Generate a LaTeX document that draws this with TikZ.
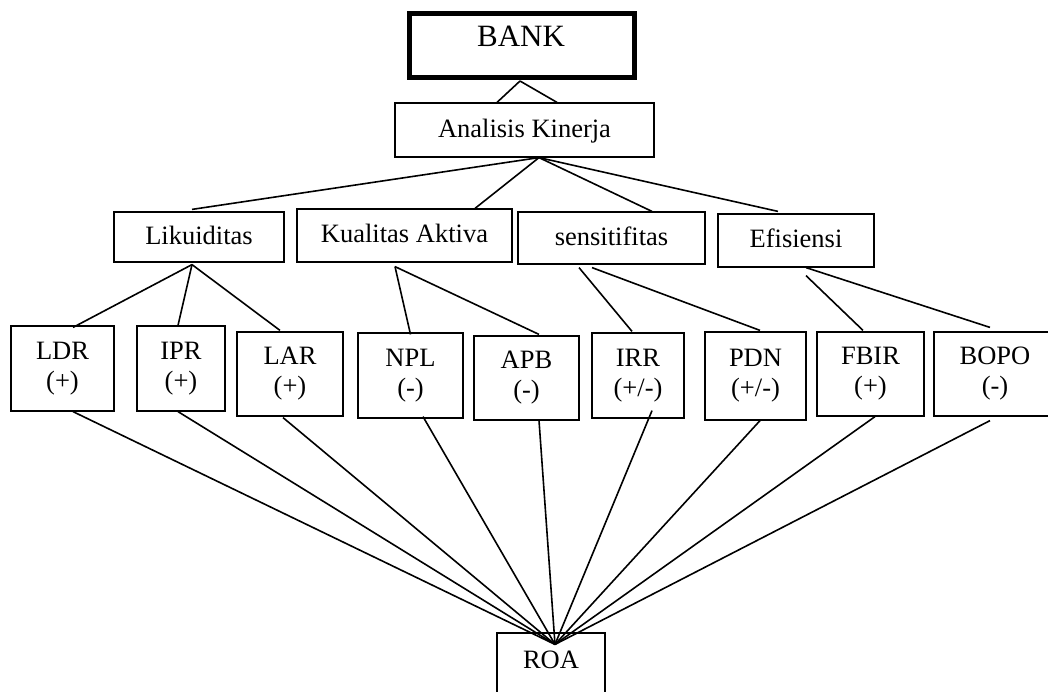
\documentclass[tikz,border=0pt]{standalone}
\usepackage{fontspec}
\setmainfont{Liberation Serif}
\usetikzlibrary{calc}
\begin{document}
\begin{tikzpicture}[x=0.5pt,y=-0.5pt,
  box/.style={draw, line width=0.6pt, inner sep=0pt, align=center,
    font=\fontsize{13.25pt}{15pt}\selectfont},
  one/.style={text height=0.72em, text depth=0pt},
  lbl/.style={inner sep=0pt},
  link/.style={line width=0.8pt}]
\useasboundingbox (0,0) rectangle (1048,691);
\clip (0,0) rectangle (1048,691);
% top
\node[box, line width=2.5pt, minimum width=112.5pt, minimum height=32pt] (bank) at (522,45.5) {};
\node[lbl, font=\fontsize{15.5pt}{18pt}\selectfont] (bankT) at (521,36.5) {BANK};
\node[box, one, minimum width=129.5pt, minimum height=27pt] (ana) at (524.5,130) {Analisis Kinerja};
% second level
\node[box, one, minimum width=85pt, minimum height=25pt] (lik) at (199,237) {Likuiditas};
\node[box, one, minimum width=107.5pt, minimum height=26.5pt] (kua) at (404.5,235.5) {Kualitas Aktiva};
\node[box, one, minimum width=93.5pt, minimum height=26pt] (sen) at (611.5,238) {sensitifitas};
\node[box, one, minimum width=78pt, minimum height=26.5pt] (efi) at (796,240.5) {Efisiensi};
% third level
\node[box, minimum width=51.5pt, minimum height=42.5pt] (ldr) at (62.5,368.5) {LDR\\(+)};
\node[box, minimum width=44pt, minimum height=42.5pt] (ipr) at (181,368.5) {IPR\\(+)};
\node[box, minimum width=53pt, minimum height=42pt] (lar) at (290,374) {LAR\\(+)};
\node[box, minimum width=52.5pt, minimum height=42.5pt] (npl) at (410.5,375.5) {NPL\\(-)};
\node[box, minimum width=52.5pt, minimum height=42pt] (apb) at (526.5,378) {APB\\(-)};
\node[box, minimum width=46pt, minimum height=42.5pt] (irr) at (638,375.5) {IRR\\(+/-)};
\node[box, minimum width=50.5pt, minimum height=44pt] (pdn) at (755.5,376) {PDN\\(+/-)};
\node[box, minimum width=53.5pt, minimum height=42pt] (fbir) at (870.5,374) {FBIR\\(+)};
\node[box, minimum width=61pt, minimum height=42pt] (bopo) at (995,374) {BOPO\\(-)};
% bottom
\node[box, minimum width=54pt, minimum height=34pt] (roa) at (551,667) {};
\node[lbl, font=\fontsize{13.25pt}{15pt}\selectfont] (roaT) at (551,660) {ROA};
% connectors
\draw[link] ($(bank.south)+(-2,1)$) -- ($(ana.north)+(-27.5,0)$);
\draw[link] ($(bank.south)+(-2,1)$) -- ($(ana.north)+(32.5,0)$);
\coordinate (aA) at ($(ana.south)+(14.5,0)$);
\draw[link] (aA) -- ($(lik.north)+(-7,-2)$);
\draw[link] (aA) -- ($(kua.north)+(70.5,0)$);
\draw[link] (aA) -- ($(sen.north)+(40.5,0)$);
\draw[link] (aA) -- ($(efi.north)+(-18,-2)$);
\coordinate (lA) at ($(lik.south)+(-7,2)$);
\draw[link] (lA) -- ($(ldr.north)+(10.5,2)$);
\draw[link] (lA) -- ($(ipr.north)+(-3,0)$);
\draw[link] (lA) -- ($(lar.north)+(-10,-1)$);
\coordinate (kA) at ($(kua.south)+(-9.5,4)$);
\draw[link] (kA) -- ($(npl.north)+(0,2)$);
\draw[link] (kA) -- ($(apb.north)+(12.5,-1)$);
\draw[link] ($(sen.south)+(-32.5,3)$) -- ($(irr.north)+(-6,-1)$);
\draw[link] ($(sen.south)+(-19.5,3)$) -- ($(pdn.north)+(4.5,-1)$);
\draw[link] ($(efi.south)+(10,8)$) -- ($(fbir.north)+(-7.5,-1)$);
\draw[link] ($(efi.south)+(10,0)$) -- ($(bopo.north)+(-5,-4)$);
\coordinate (rA) at ($(roa.north)+(4,12)$);
\draw[link] ($(ldr.south)+(10.5,0)$) -- (rA);
\draw[link] ($(ipr.south)+(-3,0)$) -- (rA);
\draw[link] ($(lar.south)+(-7,1)$) -- (rA);
\draw[link] ($(npl.south)+(12.5,-2)$) -- (rA);
\draw[link] ($(apb.south)+(12.5,0)$) -- (rA);
\draw[link] ($(irr.south)+(14,-8)$) -- (rA);
\draw[link] ($(pdn.south)+(4.5,0)$) -- (rA);
\draw[link] ($(fbir.south)+(4.5,0)$) -- (rA);
\draw[link] ($(bopo.south)+(-5,4)$) -- (rA);
\end{tikzpicture}
\end{document}
